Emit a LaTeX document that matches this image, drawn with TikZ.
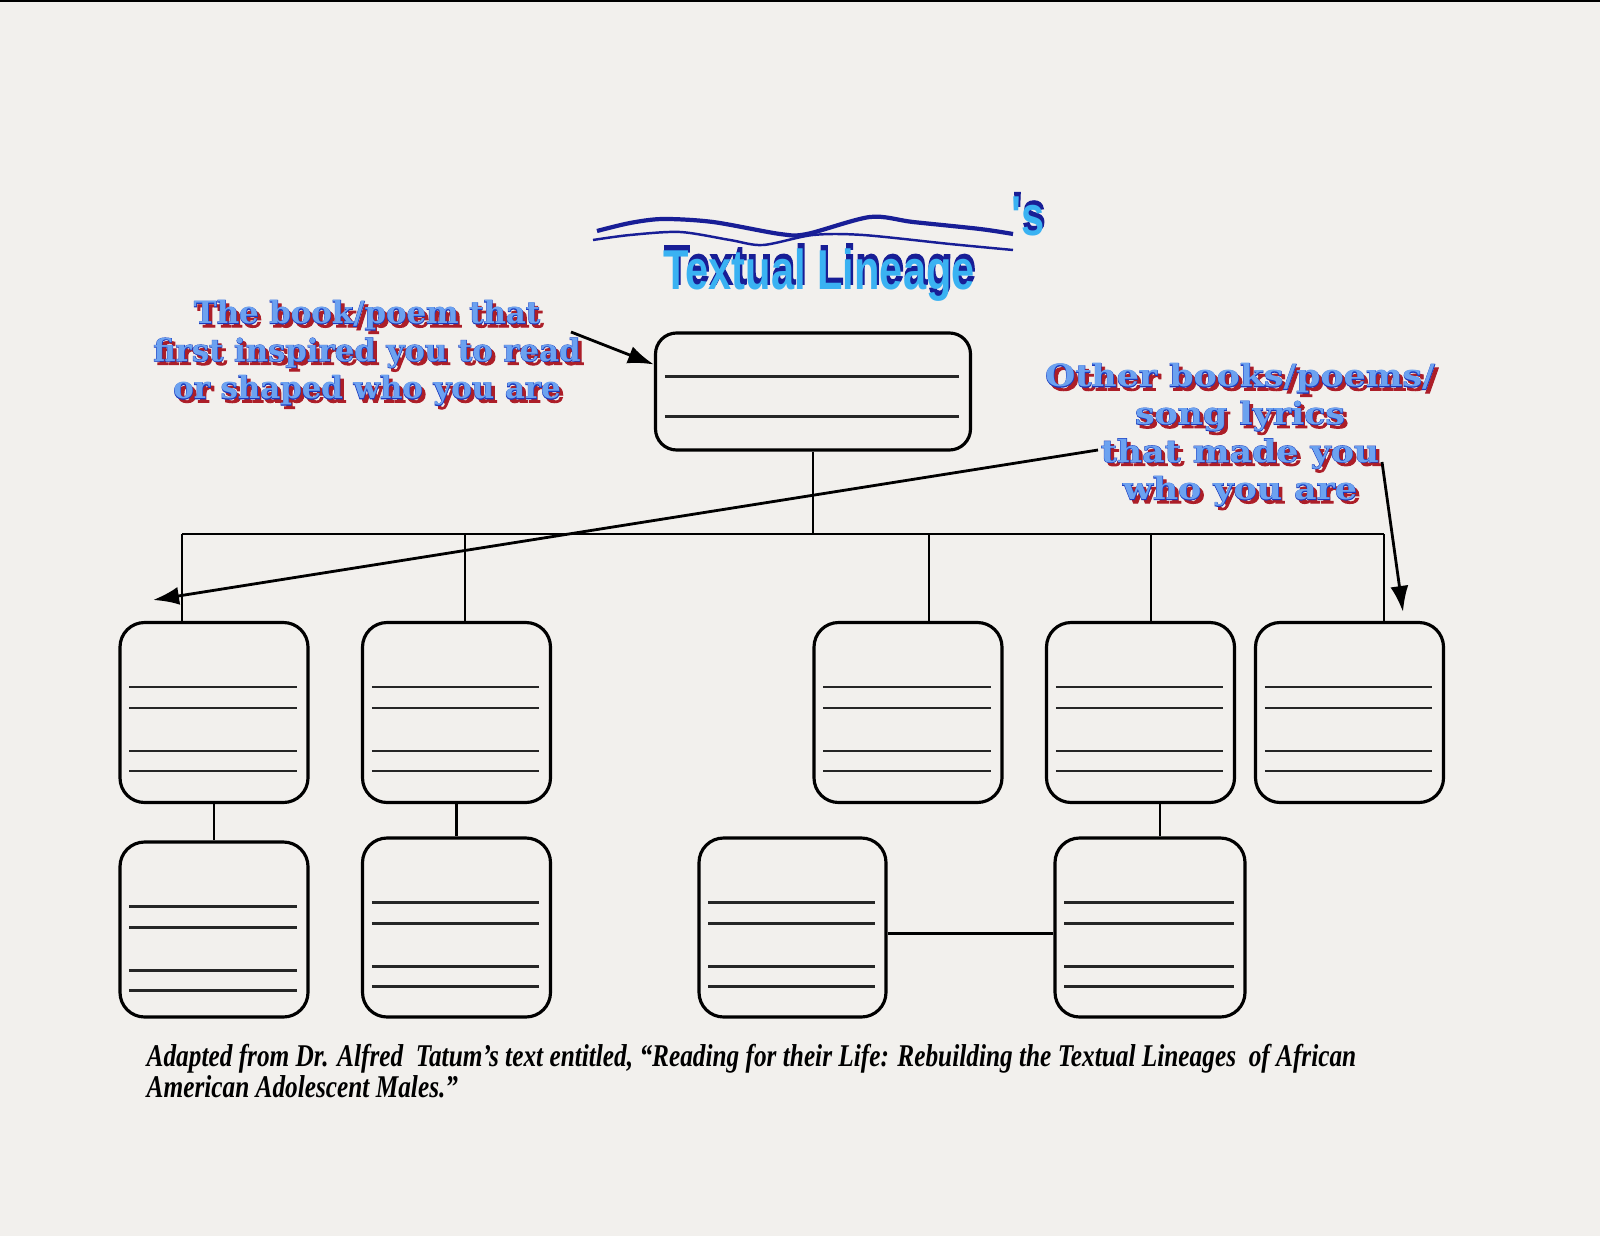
\documentclass[tikz,border=0pt]{standalone}
\usepackage{fontspec}
\usepackage{xcolor}
\usepackage{tikz}
\usetikzlibrary{arrows.meta,positioning,calc}
\newfontfamily\labelfont{DejaVu Serif}
\newfontfamily\labeledge[BoldFeatures={FakeBold=3}]{DejaVu Serif}
\newfontfamily\labelwide[FakeStretch=1.13]{DejaVu Serif}
\newfontfamily\labelwideedge[FakeStretch=1.13, BoldFeatures={FakeBold=3}]{DejaVu Serif}
\newfontfamily\titlefont[FakeStretch=0.74]{Liberation Sans}
\newfontfamily\titleedge[FakeStretch=0.74, BoldFeatures={FakeBold=2}]{Liberation Sans}
\newfontfamily\capfont[FakeStretch=0.8]{Liberation Serif}
\definecolor{pagegray}{RGB}{242,240,237}
\definecolor{fillblue}{RGB}{108,162,240}
\definecolor{edgeblue}{RGB}{28,58,190}
\definecolor{shadowred}{RGB}{172,30,40}
\definecolor{titlecyan}{RGB}{58,178,242}
\definecolor{titlenavy}{RGB}{24,30,150}
\tikzset{
  linebox/.style={draw=black, rounded corners=7pt, line width=0.9pt, minimum width=1.88cm, minimum height=1.8cm, inner sep=0pt},
  topbox/.style={draw=black, rounded corners=6pt, line width=0.9pt, minimum width=3.15cm, minimum height=1.17cm, inner sep=0pt},
  writeline/.style={line width=0.7pt, draw=black!85},
  treeedge/.style={-, line width=0.6pt},
  pointarrow/.style={-{Latex[length=2.6mm,width=1.8mm]}, line width=0.8pt},
  fancytext/.style={font=#1\bfseries\fontsize{8.75}{10.7}\selectfont, align=center, inner sep=0pt},
  titletext/.style={font=#1\bfseries\fontsize{16}{16}\selectfont, inner sep=0pt},
  captext/.style={font=\capfont\bfseries\itshape\fontsize{9}{9}\selectfont, inner sep=0pt, anchor=base west}
}
\newcommand{\ruled}[2]{%
  \foreach \d in {#2}
    {\draw[writeline] ([xshift=0.11cm,yshift=-\d cm]#1.north west) -- ([xshift=-0.13cm,yshift=-\d cm]#1.north east);}}
\newcommand{\fancylabel}[5]{%
  \node[fancytext=#2, text=shadowred] (#3red) at ($#4+(0.035,-0.035)$) {#5};
  \node[fancytext=#2, text=edgeblue] (#3edge) at #4 {#5};
  \node[fancytext=#1, text=fillblue] (#3) at #4 {#5};}
\begin{document}
\begin{tikzpicture}
  \useasboundingbox (0,0) rectangle (16,-12.36);
  \fill[pagegray] (0,0) rectangle (16,-12.36);
  \draw[line width=0.6pt] (0,-0.01) -- (16,-0.01);

  \draw[titlenavy, line width=1.2pt] plot[smooth] coordinates {(5.97,-2.31) (6.3,-2.23) (6.63,-2.19) (7.13,-2.22) (7.8,-2.34) (8.07,-2.34) (8.7,-2.17) (9.13,-2.22) (9.8,-2.29) (10.13,-2.34)};
  \draw[titlenavy, line width=0.7pt] plot[smooth] coordinates {(5.93,-2.40) (6.3,-2.35) (6.8,-2.32) (7.3,-2.40) (7.63,-2.45) (8.13,-2.35) (8.63,-2.35) (9.5,-2.44) (10.13,-2.50)};
  \node[titletext=\titleedge, text=titlenavy] (titleback) at (8.20,-2.70) {Textual Lineage};
  \node[titletext=\titlefont, text=titlecyan] (title) at (8.19,-2.75) {Textual Lineage};
  \node[titletext=\titleedge, text=titlenavy] (possback) at (10.29,-2.12) {'s};
  \node[titletext=\titlefont, text=titlecyan] (poss) at (10.28,-2.16) {'s};

  \fancylabel{\labelfont}{\labeledge}{firstlbl}{(3.67,-3.53)}{The book/poem that\\first inspired you to read\\or shaped who you are}
  \fancylabel{\labelwide}{\labelwideedge}{otherlbl}{(12.40,-4.35)}{Other books/poems/\\song lyrics\\that made you\\who you are}

  \node[topbox] (top) at (8.13,-3.915) {};
  \node[linebox] (r1a) at (2.14,-7.125) {};
  \node[linebox] (r1b) at (4.565,-7.125) {};
  \node[linebox] (r1c) at (9.08,-7.125) {};
  \node[linebox] (r1d) at (11.405,-7.125) {};
  \node[linebox] (r1e) at (13.495,-7.125) {};
  \node[linebox, minimum height=1.75cm] (r2a) at (2.14,-9.295) {};
  \node[linebox, minimum height=1.79cm] (r2b) at (4.565,-9.275) {};
  \node[linebox, minimum height=1.79cm, minimum width=1.87cm] (r2c) at (7.925,-9.275) {};
  \node[linebox, minimum height=1.79cm, minimum width=1.9cm] (r2d) at (11.50,-9.275) {};

  \ruled{top}{0.45,0.85}
  \foreach \b in {r1a,r1b,r1c,r1d,r1e,r2a,r2b,r2c,r2d}
    {\ruled{\b}{0.66,0.87,1.30,1.50}}

  \coordinate (hub) at (8.13,-5.34);
  \coordinate (dropa) at (1.82,-5.34);
  \coordinate (dropb) at (4.65,-5.34);
  \coordinate (dropc) at (9.29,-5.34);
  \coordinate (dropd) at (11.51,-5.34);
  \coordinate (drope) at (13.84,-5.34);
  \draw[treeedge] (top) -- (hub);
  \draw[treeedge] (dropa) -- (drope);
  \foreach \c/\b in {dropa/r1a, dropb/r1b, dropc/r1c, dropd/r1d, drope/r1e}
    \draw[treeedge] (\c) -- (\c |- \b.north);
  \draw[treeedge] (r1a.south) -- (r2a.north);
  \draw[treeedge] (r1b.south) -- (r2b.north);
  \draw[treeedge] ([xshift=1mm]r2d.north) -- ([xshift=1mm]r2d.north |- r1d.south);
  \draw[treeedge] ([yshift=-0.6mm]r2c.east) -- ([yshift=-0.6mm]r2d.west);

  \coordinate (srcA) at (5.71,-3.32);
  \coordinate (srcB) at (10.98,-4.50);
  \coordinate (tipB) at (1.53,-6.00);
  \coordinate (srcC) at (13.82,-4.62);
  \coordinate (tipC) at (14.03,-6.12);
  \draw[pointarrow] (srcA) -- ([yshift=2.7mm]top.west);
  \draw[pointarrow] (srcB) -- (tipB);
  \draw[pointarrow] (srcC) -- (tipC);

  \node[captext] (capone) at (1.46,-10.66) {Adapted from Dr. Alfred\ \ Tatum’s text entitled, “Reading for their Life: Rebuilding the Textual Lineages\ \ of African};
  \node[captext] (captwo) at (1.46,-10.97) {American Adolescent Males.”};
\end{tikzpicture}
\end{document}
